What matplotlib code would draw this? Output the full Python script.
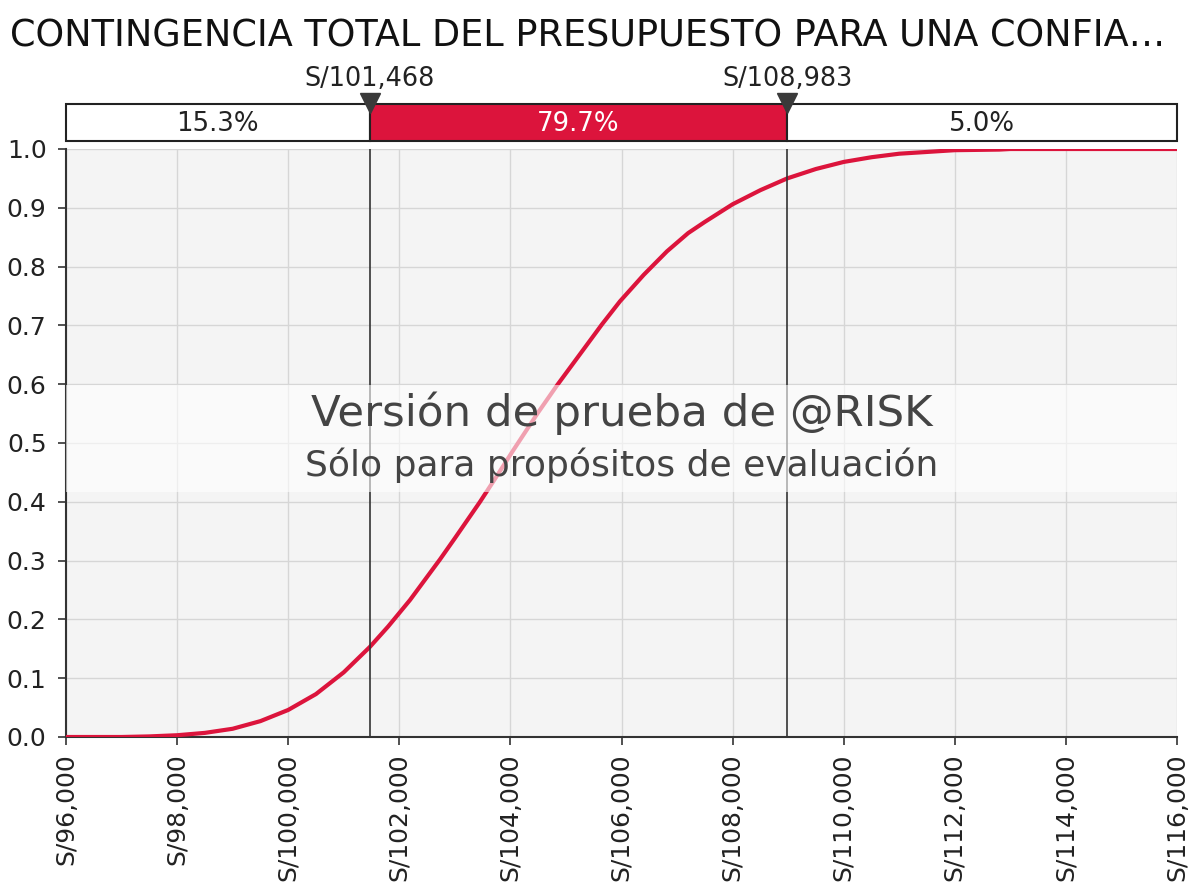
import numpy as np
import matplotlib
matplotlib.use('Agg')
import matplotlib.pyplot as plt
from matplotlib.ticker import FuncFormatter
import matplotlib.transforms as mtrans

# datos (ascendente acumulado)
valores = [96000, 97000, 97500, 98000, 98500, 99000, 99500, 100000, 100500,
           101000, 101468, 101800, 102193, 102732, 103000, 103453, 103750,
           104047, 104500, 104839, 105307, 105650, 105973, 106400, 106819,
           107200, 107500, 108000, 108500, 108983, 109500, 110000, 110500,
           111000, 111500, 112000, 112800, 113000, 116000]
prob = [0.000, 0.000, 0.001, 0.003, 0.007, 0.014, 0.027, 0.046, 0.073,
        0.110, 0.153, 0.188, 0.233, 0.302, 0.338, 0.400, 0.443,
        0.487, 0.552, 0.598, 0.658, 0.702, 0.741, 0.786, 0.826,
        0.857, 0.876, 0.906, 0.930, 0.950, 0.966, 0.978, 0.986,
        0.992, 0.995, 0.998, 0.999, 1.000, 1.000]

delimitadores = [101468, 108983]
porcentajes = [15.3, 79.7, 5.0]
xticks = list(range(96000, 116001, 2000))
yticks = [0.0, 0.1, 0.2, 0.3, 0.4, 0.5, 0.6, 0.7, 0.8, 0.9, 1.0]
titulo = 'CONTINGENCIA TOTAL DEL PRESUPUESTO PARA UNA CONFIA\u2026'

rojo = '#DC143C'
W, H = 1189, 892
fig = plt.figure(figsize=(W / 100, H / 100), dpi=100)

ax = fig.add_axes([66 / W, 1 - 737 / H, 1111 / W, 588 / H])
ax.set_facecolor('#f4f4f4')
ax.plot(valores, prob, color=rojo, lw=3.0, zorder=3, solid_joinstyle='round')
ax.set_xlim(96000, 116000)
ax.set_ylim(0, 1)
ax.set_xticks(xticks)
ax.set_yticks(yticks)
ax.xaxis.set_major_formatter(FuncFormatter(lambda v, p: 'S/{:,}'.format(int(v))))
ax.yaxis.set_major_formatter(FuncFormatter(lambda v, p: '%.1f' % v))
ax.grid(True, color='#d6d6d6', lw=1, zorder=0)
ax.set_axisbelow(True)
for s in ['top', 'right']:
    ax.spines[s].set_visible(False)
for s in ['left', 'bottom']:
    ax.spines[s].set_color('#333333')
    ax.spines[s].set_linewidth(1.5)
ax.tick_params(axis='x', labelsize=18, rotation=90, length=6, width=1.2,
               pad=6, colors='#333333', labelcolor='#222222')
ax.tick_params(axis='y', labelsize=18, length=6, width=1.2, pad=8,
               colors='#333333', labelcolor='#222222')

for d in delimitadores:
    ax.axvline(d, color='#333333', lw=1.2, zorder=4)

# franja de marca de agua
ax.axhspan(0.417, 0.599, color='white', alpha=0.6, zorder=5, lw=0)
ax.text(0.5, 0.551, 'Versión de prueba de @RISK', transform=ax.transAxes,
        ha='center', va='center', fontsize=31.3, color='#444444', zorder=6)
ax.text(0.5, 0.4626, 'Sólo para propósitos de evaluación', transform=ax.transAxes,
        ha='center', va='center', fontsize=26, color='#444444', zorder=6)

# barra de delimitadores
bx = fig.add_axes([66 / W, 1 - 140.5 / H, 1111 / W, 36.5 / H])
bx.set_xlim(96000, 116000)
bx.set_ylim(0, 1)
bx.axis('off')
bordes = [96000] + delimitadores + [116000]
for i, pc in enumerate(porcentajes):
    fc = rojo if i == 1 else 'white'
    tc = 'white' if i == 1 else '#222222'
    bx.barh(0.5, bordes[i + 1] - bordes[i], left=bordes[i], height=1,
            color=fc, edgecolor='#222222', lw=1.5, clip_on=False)
    bx.text((bordes[i] + bordes[i + 1]) / 2, 0.45, '%.1f%%' % pc,
            ha='center', va='center', fontsize=18.7, color=tc)

tr = mtrans.blended_transform_factory(bx.transData, bx.transAxes)
for d in delimitadores:
    bx.plot([d], [1.03], marker='v', ms=15, color='#3a3a3a', mec='#3a3a3a',
            transform=tr, clip_on=False, zorder=10)
    bx.text(d, 1.68, 'S/{:,}'.format(d), transform=tr, ha='center',
            va='center', fontsize=18.4, color='#222222')

fig.text(10 / W, 1 - 36 / H, titulo, ha='left', va='center', fontsize=26.4,
         color='#111111')

fig.savefig('out.png', dpi=100)
